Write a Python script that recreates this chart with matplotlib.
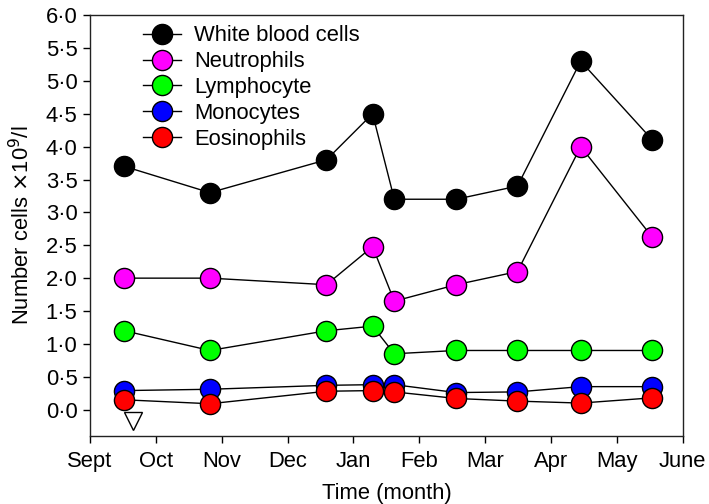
import matplotlib
matplotlib.use("Agg")
import matplotlib.pyplot as plt
from matplotlib.ticker import FuncFormatter

plt.rcParams['font.family'] = ['Liberation Sans', 'DejaVu Sans']

# x positions in months after start of September
months_x = [0.52, 1.82, 3.59, 4.29, 4.62, 5.56, 6.49, 7.45, 8.54]
month_labels = ['Sept', 'Oct', 'Nov', 'Dec', 'Jan', 'Feb', 'Mar', 'Apr', 'May', 'June']

wbc = [3.7, 3.3, 3.8, 4.5, 3.2, 3.2, 3.4, 5.3, 4.1]
neutrophils = [2.0, 2.0, 1.9, 2.48, 1.65, 1.9, 2.1, 4.0, 2.62]
lymphocyte = [1.2, 0.9, 1.2, 1.27, 0.85, 0.9, 0.9, 0.9, 0.9]
monocytes = [0.29, 0.31, 0.37, 0.38, 0.38, 0.26, 0.27, 0.35, 0.35]
eosinophils = [0.15, 0.09, 0.28, 0.29, 0.27, 0.17, 0.13, 0.10, 0.18]

series_names = ['White blood cells', 'Neutrophils', 'Lymphocyte', 'Monocytes', 'Eosinophils']
series_colors = ['#000000', '#ff00ff', '#00ff00', '#0000ff', '#ff0000']

marker_x = 0.65
marker_y = -0.18

FS = 15.8

fig = plt.figure(figsize=(7.09, 5.04), dpi=100)
ax = fig.add_axes([0.127, 0.135, 0.836, 0.835])

for name, vals, col in zip(series_names,
                           [wbc, neutrophils, lymphocyte, monocytes, eosinophils],
                           series_colors):
    ax.plot(months_x, vals, '-', color='black', lw=1.0, marker='o', ms=14.5,
            mfc=col, mec='black', mew=1.0, label=name)

ax.plot([marker_x], [marker_y], marker='v', ms=13, mfc='white', mec='black', mew=1.0, ls='none')

ax.set_xlim(0, 9)
ax.set_ylim(-0.4, 6.0)
ax.set_xticks(range(len(month_labels)))
ax.set_xticklabels(month_labels)
ax.set_yticks([i * 0.5 for i in range(13)])
ax.yaxis.set_major_formatter(FuncFormatter(lambda v, p: f"{v:.1f}".replace('.', '\u00b7')))
ax.tick_params(axis='both', direction='out', length=5, width=1, labelsize=FS, pad=4)
ax.tick_params(axis='x', pad=6)
ax.tick_params(top=False, right=False)
for s in ax.spines.values():
    s.set_linewidth(1.0)
    s.set_color('#222222')

ax.set_xlabel('Time (month)', fontsize=FS, labelpad=8)
ax.set_ylabel('Number cells $\\times$10$^{9}$/l', fontsize=FS, labelpad=8)

leg = ax.legend(loc='upper left', bbox_to_anchor=(0.063, 1.012), frameon=False, fontsize=FS,
                handlelength=1.75, handletextpad=0.6, labelspacing=0.22, borderpad=0.2)

fig.savefig('out.png', dpi=100)
